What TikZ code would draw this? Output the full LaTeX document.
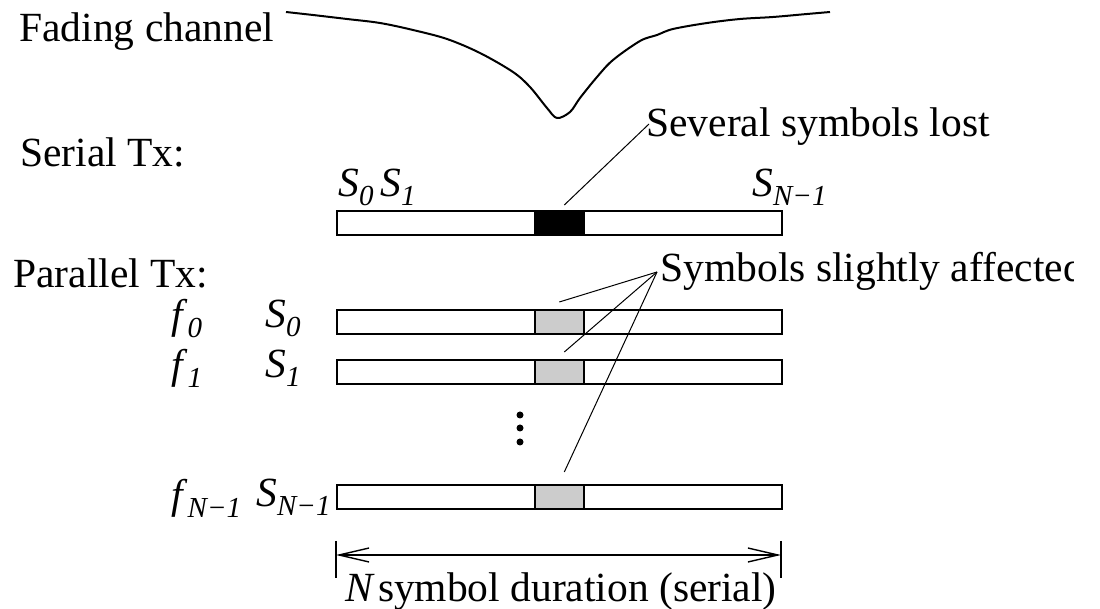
\documentclass[tikz,border=0pt]{standalone}
\usepackage{fontspec}
\setmainfont{Liberation Serif}
\usepackage{tikz}
\usetikzlibrary{positioning,arrows.meta,calc}
\newcommand{\lblfont}{\fontsize{20.75}{25}\selectfont}
\newcommand{\idx}[1]{\raisebox{-4.5pt}{\fontsize{14.5}{15}\selectfont\itshape #1}}
\newcommand{\sym}[2]{\textit{#1}\idx{#2}}
\tikzset{
  x=0.5pt, y=-0.5pt,
  lbl/.style={font=\lblfont,inner sep=0pt,anchor=base west},
  bar/.style={draw=black,line width=1pt,fill=white,anchor=north west,
    inner sep=0pt,minimum width=222.5pt,minimum height=12.25pt},
  blk/.style={draw=black,line width=0.8pt,anchor=north west,inner sep=0pt,
    minimum width=24.5pt,minimum height=12.25pt},
  lostblk/.style={blk,fill=black},
  hitblk/.style={blk,fill=black!20},
  lead/.style={line width=0.5pt},
  chan/.style={line width=1pt},
  dur/.style={{Straight Barb[length=15pt,width=7pt]}-{Straight Barb[length=15pt,width=7pt]},
    line width=0.7pt},
  tickln/.style={line width=0.7pt},
  vdot/.style={circle,fill=black,inner sep=0pt,minimum size=3.5pt},
}

\begin{document}
\begin{tikzpicture}
  \useasboundingbox (0,0) rectangle (1100,609);
  \clip (0,0) rectangle (1073,609);
  % fading channel
  \node[lbl] (fading) at (19,42) {Fading channel};
  \draw[chan] plot[smooth,tension=0.55] coordinates {(286,12) (313,15) (347,19)
    (380,23) (413,30) (447,39) (480,53) (513,72) (530,87) (547,108) (557,118)
    (570,112) (580,98) (597,77) (613,60) (640,41) (657,35) (673,29) (707,23)
    (740,19) (773,17) (807,14) (830,12)};
  % serial
  \node[lbl] (serial) at (20,167) {Serial Tx:};
  \node[bar] (sbar) at (336,210) {};
  \node[lostblk] (sblk) at (534,210) {};
  \node[lbl] (s0) at (338,197) {\sym{S}{0}};
  \node[lbl] (s1) at (380,197) {\sym{S}{1}};
  \node[lbl] (sN) at (752,197) {\sym{S}{N−1}};
  \node[lbl] (several) at (646,137) {Several symbols lost};
  \draw[lead] ([shift={(3,-13)}]several.base west) -- ([shift={(5,-5)}]sblk.north);
  % parallel
  \node[lbl] (parallel) at (13,288) {Parallel Tx:};
  \node[bar] (p0) at (336,309) {};
  \node[hitblk] (h0) at (534,309) {};
  \node[bar] (p1) at (336,359) {};
  \node[hitblk] (h1) at (534,359) {};
  \node[bar] (pN) at (336,484) {};
  \node[hitblk] (hN) at (534,484) {};
  \node[lbl] (f0) at (171,329) {\sym{f}{0}};
  \node[lbl] (q0) at (265,328) {\sym{S}{0}};
  \node[lbl] (f1) at (171,379) {\sym{f}{1}};
  \node[lbl] (q1) at (265,378) {\sym{S}{1}};
  \node[lbl] (fN) at (171,509) {\sym{f}{N−1}};
  \node[lbl] (qN) at (256,507) {\sym{S}{N−1}};
  \foreach \k/\yy in {a/415,b/428,c/442}
    \node[vdot] (dot\k) at (520,\yy) {};
  \node[lbl] (slight) at (660,282) {Symbols slightly affected};
  \coordinate (fan) at ([shift={(-3,-10)}]slight.base west);
  \draw[lead] (fan) -- ([shift={(0,-7)}]h0.north);
  \draw[lead] (fan) -- ([shift={(5,-7)}]h1.north);
  \draw[lead] (fan) -- ([shift={(5,-12)}]hN.north);
  % duration
  \coordinate (dl) at (336,555);
  \coordinate (dr) at (781,555);
  \draw[dur] (dl) -- (dr);
  \draw[tickln] ($(dl)+(0,-14)$) -- ($(dl)+(0,23)$);
  \draw[tickln] ($(dr)+(0,-14)$) -- ($(dr)+(0,23)$);
  \node[lbl] (durlbl) at (345,602) {\textit{N}\hspace{1.5pt}symbol duration (serial)};
\end{tikzpicture}
\end{document}
